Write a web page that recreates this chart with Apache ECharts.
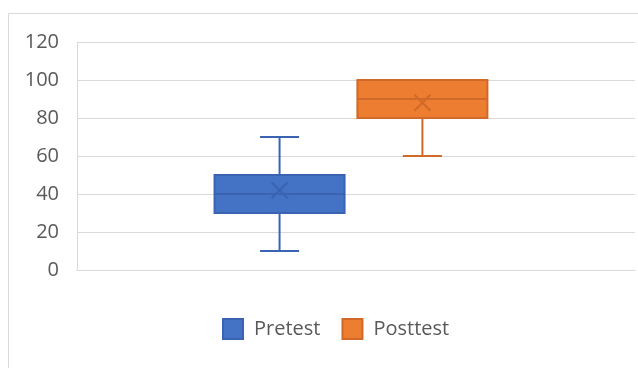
<!DOCTYPE html>
<html>
<head>
<meta charset="utf-8">
<script src="https://cdn.jsdelivr.net/npm/echarts@6/dist/echarts.min.js"></script>
<style>
  html, body { margin: 0; padding: 0; background: #fff; }
  #chart { width: 638px; height: 368px; }
</style>
</head>
<body>
<div id="chart"></div>
<script>
// Box-and-whisker summary for each test
const categories = ['Scores'];
const seriesNames = ['Pretest', 'Posttest'];
// [min, q1, median, q3, max, mean]
const pretestStats = [10, 30, 40, 50, 70, 42];
const posttestStats = [60, 80, 90, 100, 100, 88];
const yTicks = [0, 20, 40, 60, 80, 100, 120];

const fills = ['#4472C4', '#ED7D31'];
const strokes = ['#3A64B2', '#D0692A'];
const statsList = [pretestStats, posttestStats];

const BOX_FRAC = 0.233;    // box width as share of category band
const GAP_FRAC = 0.023;    // gap between the two boxes
const SHIFT_FRAC = -0.009; // pair sits slightly left of the band centre
const CAP_FRAC = 0.30;     // whisker cap width as share of box width

function makeRender(idx) {
  return function (params, api) {
    const cat = api.value(0);
    const band = api.size([1, 0])[0];
    const cx0 = api.coord([cat, 0])[0] + band * SHIFT_FRAC;
    const boxW = band * BOX_FRAC;
    const gap = band * GAP_FRAC;
    const cx = cx0 + (idx === 0 ? -1 : 1) * (boxW + gap) / 2;
    const y = v => api.coord([cat, v])[1];
    const yMin = y(api.value(1)), yQ1 = y(api.value(2)), yMed = y(api.value(3));
    const yQ3 = y(api.value(4)), yMax = y(api.value(5)), yMean = y(api.value(6));
    const capW = boxW * CAP_FRAC;
    const left = cx - boxW / 2, right = cx + boxW / 2;
    const lineStyle = { stroke: strokes[idx], lineWidth: 2, fill: null };
    const children = [];
    // whiskers
    if (yMax < yQ3 - 0.5) {
      children.push({ type: 'line', shape: { x1: cx, y1: yQ3, x2: cx, y2: yMax }, style: lineStyle });
      children.push({ type: 'line', shape: { x1: cx - capW / 2, y1: yMax, x2: cx + capW / 2, y2: yMax }, style: lineStyle });
    }
    if (yMin > yQ1 + 0.5) {
      children.push({ type: 'line', shape: { x1: cx, y1: yQ1, x2: cx, y2: yMin }, style: lineStyle });
      children.push({ type: 'line', shape: { x1: cx - capW / 2, y1: yMin, x2: cx + capW / 2, y2: yMin }, style: lineStyle });
    }
    // box
    children.push({ type: 'rect', shape: { x: left, y: yQ3, width: boxW, height: yQ1 - yQ3 },
      style: { fill: fills[idx], stroke: strokes[idx], lineWidth: 2 } });
    // median
    children.push({ type: 'line', shape: { x1: left, y1: yMed, x2: right, y2: yMed }, style: lineStyle });
    // mean marker (x)
    const m = 8;
    children.push({ type: 'line', shape: { x1: cx - m, y1: yMean - m, x2: cx + m, y2: yMean + m }, style: lineStyle });
    children.push({ type: 'line', shape: { x1: cx - m, y1: yMean + m, x2: cx + m, y2: yMean - m }, style: lineStyle });
    return { type: 'group', children: children };
  };
}

const chart = echarts.init(document.getElementById('chart'), null, { renderer: 'canvas' });
chart.setOption({
  animation: false,
  backgroundColor: '#fff',
  graphic: [{
    type: 'rect', z: -10,
    shape: { x: 8.5, y: 13.5, width: 700, height: 400 },
    style: { fill: null, stroke: '#D9D9D9', lineWidth: 1 }
  }],
  grid: { left: 77, right: 3, top: 42, bottom: 98, containLabel: false },
  legend: {
    data: seriesNames,
    top: 318,
    left: 222,
    padding: 0,
    icon: 'rect',
    itemWidth: 20,
    itemHeight: 20,
    itemGap: 21,
    textStyle: { fontFamily: 'Open Sans', fontSize: 20, color: '#595959', padding: [0, 0, 0, 6] }
  },
  xAxis: {
    type: 'category',
    data: categories,
    axisLine: { show: true, lineStyle: { color: '#D9D9D9', width: 1 } },
    axisTick: { show: false },
    axisLabel: { show: false },
    splitLine: { show: false }
  },
  yAxis: {
    type: 'value',
    min: yTicks[0],
    max: yTicks[yTicks.length - 1],
    interval: 20,
    axisLine: { show: true, lineStyle: { color: '#D9D9D9', width: 1 } },
    axisTick: { show: false },
    axisLabel: { fontFamily: 'Open Sans', fontSize: 20, color: '#595959', margin: 18 },
    splitLine: { lineStyle: { color: '#D9D9D9', width: 1 } }
  },
  series: seriesNames.map((name, idx) => ({
    name: name,
    type: 'custom',
    renderItem: makeRender(idx),
    itemStyle: { color: fills[idx], borderColor: strokes[idx], borderWidth: 1.5 },
    encode: { x: 0, y: [1, 2, 3, 4, 5, 6] },
    data: categories.map((c, ci) => [ci].concat(statsList[idx]))
  }))
});
</script>
</body>
</html>
